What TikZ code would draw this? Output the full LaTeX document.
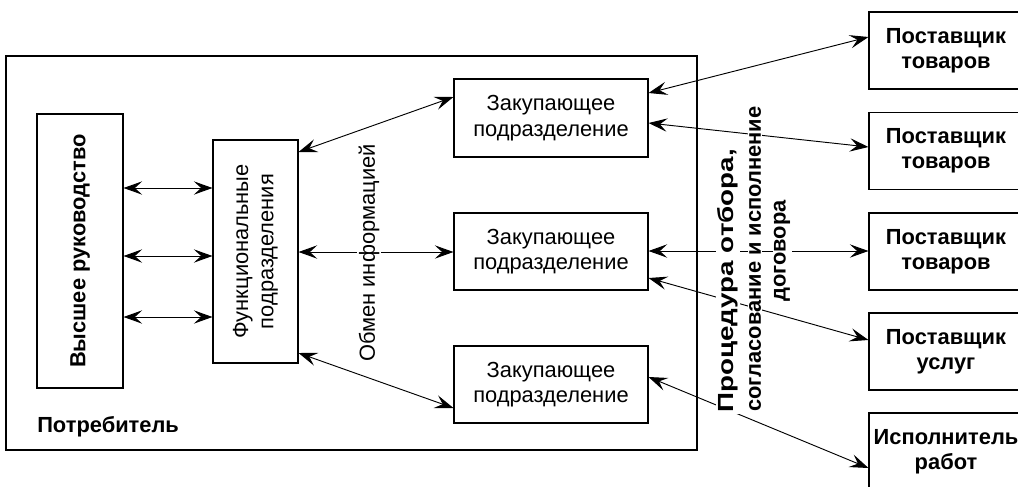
\documentclass[tikz,border=0pt]{standalone}
\usepackage{graphicx}
\usepackage{fontspec}
\setmainfont{Liberation Sans}
\usetikzlibrary{arrows.meta}

\tikzset{
  box/.style={draw, line width=0.8pt, inner sep=0pt, align=center, font=\fontsize{16.4}{19}\selectfont},
  boldbox/.style={box, font=\fontsize{16.4}{19}\selectfont\bfseries},
  link/.style={{Stealth[length=14pt,width=10pt,inset=5.5pt]}-{Stealth[length=14pt,width=10pt,inset=5.5pt]}, line width=0.7pt},
  vtext/.style={rotate=90, align=center, inner sep=1pt, font=\fontsize{16.4}{19}\selectfont},
  boldtext/.style={vtext, font=\fontsize{16.4}{19}\selectfont\bfseries},
  gap/.style={fill=white}
}

\begin{document}
\begin{tikzpicture}[x=0.75pt,y=0.75pt,yscale=-1,xscale=1]
\useasboundingbox (0,0) rectangle (1018,486);

%Shape: Rectangle [consumer]
\draw [line width=0.8pt] (6,56) rectangle (697,450);

%Shape: Rectangle [top management]
\node [box, minimum width=64.5pt, minimum height=205.5pt] (top) at (80,251) {};
%Shape: Rectangle [functional units]
\node [box, minimum width=63.75pt, minimum height=167.25pt] (func) at (255.5,251.5) {};

%Shape: Rectangle [purchasing units]
\node [box, minimum width=145.5pt, minimum height=58.5pt] (buyA) at (551,118) {Закупающее\\подразделение};
\node [box, minimum width=145.5pt, minimum height=57.75pt] (buyB) at (551,251.5) {Закупающее\\подразделение};
\node [box, minimum width=145.5pt, minimum height=57.75pt] (buyC) at (551,384.5) {Закупающее\\подразделение};

%Shape: Rectangle [suppliers]
\node [boldbox, minimum width=115.5pt, minimum height=57.75pt] (supA) at (946,50.5) {Поставщик\\товаров};
\node [boldbox, minimum width=115.5pt, minimum height=57.75pt] (supB) at (946,151) {Поставщик\\товаров};
\node [boldbox, minimum width=115.5pt, minimum height=57.75pt] (supC) at (946,251.5) {Поставщик\\товаров};
\node [boldbox, minimum width=115.5pt, minimum height=57.75pt] (supD) at (946,351.5) {Поставщик\\услуг};
\node [boldbox, minimum width=115.5pt, minimum height=57.75pt] (supE) at (946,451.5) {Исполнитель\\работ};

%Straight Lines [management - functional units]
\draw [link] (top.east |- 0,188) -- (func.west |- 0,188);
\draw [link] (top.east |- 0,256) -- (func.west |- 0,256);
\draw [link] (top.east |- 0,317) -- (func.west |- 0,317);

%Straight Lines [functional units - purchasing]
\draw [link] (func.east |- 0,152) -- (buyA.west |- 0,97);
\draw [link] (func.east |- 0,252) -- (buyB.west |- 0,252);
\draw [link] (func.east |- 0,353) -- (buyC.west |- 0,408);

%Straight Lines [purchasing - suppliers]
\draw [link] (buyA.east |- 0,93) -- (supA.west |- 0,37);
\draw [link] (buyA.east |- 0,123) -- (supB.west |- 0,147);
\draw [link] (buyB.east |- 0,251) -- (supC.west |- 0,251);
\draw [link] (buyB.east |- 0,278) -- (supD.west |- 0,340);
\draw [link] (buyC.east |- 0,377) -- (supE.west |- 0,468);

% Text Node
\node [boldtext] (topText) at (top) {Высшее руководство};
% Text Node
\node [vtext] (funcText) at (func) {Функциональные\\подразделения};
% Text Node
\node [vtext, gap] (infoText) at (369,253) {Обмен информацией};
% Text Node
\node [boldtext, gap] (procA) at (728,281) {\scalebox{1.27}[1]{Процедура отбора,}};
\node [boldtext, gap] (procB) at (755,259) {согласование и исполнение};
\node [boldtext, gap] (procC) at (782,251) {договора};
% Text Node
\node [anchor=west, inner sep=0pt, font=\fontsize{16.4}{19}\selectfont\bfseries] (consumer) at (37,427) {Потребитель};

\end{tikzpicture}
\end{document}
